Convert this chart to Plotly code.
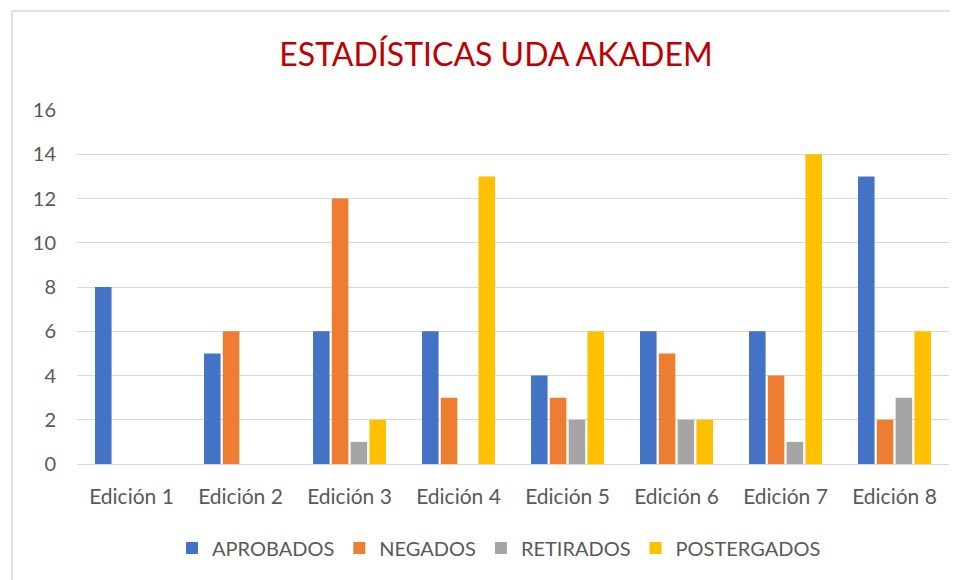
import plotly.graph_objects as go

categories = ["Edición 1", "Edición 2", "Edición 3", "Edición 4", "Edición 5", "Edición 6", "Edición 7", "Edición 8"]
aprobados = [8, 5, 6, 6, 4, 6, 6, 13]
negados = [0, 6, 12, 3, 3, 5, 4, 2]
retirados = [0, 0, 1, 0, 2, 2, 1, 3]
postergados = [0, 0, 2, 13, 6, 2, 14, 6]

series = [
    ("APROBADOS", aprobados, "#4472C4"),
    ("NEGADOS", negados, "#ED7D31"),
    ("RETIRADOS", retirados, "#A5A5A5"),
    ("POSTERGADOS", postergados, "#FFC000"),
]

FONT = "Lato"
# page body offset of the rendered html (8px)
OFF = 8
L, R_EDGE, TOP, ZERO = 77 - OFF, 949 - OFF, 110 - OFF, 464 - OFF
PW, PH = R_EDGE - L, ZERO - TOP

fig = go.Figure()
for name, vals, color in series:
    fig.add_trace(go.Bar(x=categories, y=vals, name=name, marker=dict(color=color, line=dict(width=0))))

fig.update_layout(
    width=958, height=580,
    paper_bgcolor="white", plot_bgcolor="white",
    margin=dict(l=L, r=958 - R_EDGE, t=TOP, b=580 - ZERO),
    barmode="group", bargap=0.31, bargroupgap=0.12,
    font=dict(family=FONT, color="#595959", size=20),
    title=dict(text="ESTADÍSTICAS UDA AKADEM", x=0.5 + 9 / 958, xanchor="center", y=1 - (55 - OFF) / 580, yanchor="middle",
               font=dict(family=FONT, size=32, color="#C00000")),
    xaxis=dict(showgrid=False, showline=True, linecolor="#D9D9D9", linewidth=1, ticks="",
               tickfont=dict(size=21, color="#595959"), ticklabelstandoff=14),
    yaxis=dict(range=[0, 16], dtick=2, showgrid=True, gridcolor="#D9D9D9", gridwidth=1,
               zeroline=False, showline=False, tickfont=dict(size=20, color="#595959"), ticklabelstandoff=20),
    legend=dict(orientation="h", x=0.5 - 14 / PW, xanchor="center", y=(ZERO - (548 - OFF)) / PH, yanchor="middle",
                font=dict(size=20, color="#595959"), itemwidth=30, traceorder="normal"),
    shapes=[dict(type="rect", xref="paper", yref="paper",
                 x0=(12 - OFF - L) / PW, x1=(975 - OFF - L) / PW,
                 y0=(ZERO - 600) / PH, y1=(ZERO - (11 - OFF)) / PH,
                 line=dict(color="#D9D9D9", width=1.5), layer="below")],
)

fig.write_html("out.html")
